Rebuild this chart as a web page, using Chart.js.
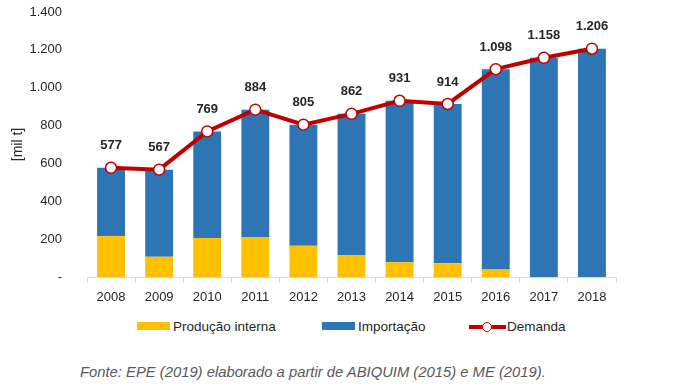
<!DOCTYPE html>
<html lang="pt">
<head>
  <meta charset="UTF-8" />
  <title>Demanda — produção e importação</title>
  <script src="https://cdnjs.cloudflare.com/ajax/libs/Chart.js/4.4.1/chart.umd.js"></script>
  <style>
    body {
      margin: 0;
      background: #fff;
      font-family: 'Liberation Sans', sans-serif;
    }
    #wrap {
      position: relative;
      width: 684px;
      height: 384px;
    }
    #chart {
      position: absolute;
      left: 0;
      top: 0;
    }
    .sw, .txt, .dot {
      position: absolute;
    }
    .txt {
      top: 318px;
      font-size: 13.5px;
      line-height: 17px;
      color: #262626;
      white-space: nowrap;
    }
    .sw {
      top: 322px;
      width: 33px;
      height: 8px;
    }
    .dot {
      top: 321.5px;
      width: 10px;
      height: 10px;
      border-radius: 50%;
      background: #fff;
      border: 1.5px solid #C00000;
      box-sizing: border-box;
    }
    .note {
      position: absolute;
      left: 80px;
      top: 363px;
      font-size: 14.8px;
      line-height: 18px;
      font-style: italic;
      color: #595959;
      white-space: nowrap;
    }
  </style>
</head>
<body>
  <div id="wrap">
    <canvas id="chart" width="684" height="310"></canvas>

    <span class="sw" style="left:137px;background:#FFC000"></span>
    <span class="txt" style="left:173px">Produção interna</span>
    <span class="sw" style="left:322px;background:#2E75B6"></span>
    <span class="txt" style="left:358px">Importação</span>
    <span class="sw" style="left:469px;width:37px;top:324.5px;height:4px;background:#C00000"></span>
    <span class="dot" style="left:482px"></span>
    <span class="txt" style="left:507px">Demanda</span>

    <div class="note">Fonte: EPE (2019) elaborado a partir de ABIQUIM (2015) e ME (2019).</div>
  </div>

  <script>
    const years = ['2008', '2009', '2010', '2011', '2012', '2013', '2014', '2015', '2016', '2017', '2018'];
    const demanda = [577, 567, 769, 884, 805, 862, 931, 914, 1098, 1158, 1206];
    const producao = [215, 107, 206, 211, 165, 116, 78, 72, 39, 0, 0];
    const importacao = [362, 460, 563, 673, 640, 746, 853, 842, 1059, 1158, 1206];
    const yTicks = [0, 200, 400, 600, 800, 1000, 1200, 1400];

    const fmt = v => v === 0 ? '-' : String(v).replace(/\B(?=(\d{3})+(?!\d))/g, '.');

    // rótulos de valor acima dos pontos da demanda
    const demandLabels = {
      id: 'demandLabels',
      afterDatasetsDraw(chart) {
        const meta = chart.getDatasetMeta(2);
        const ctx = chart.ctx;
        ctx.save();
        ctx.font = 'bold 13px "Liberation Sans", sans-serif';
        ctx.fillStyle = '#262626';
        ctx.textAlign = 'center';
        ctx.textBaseline = 'middle';
        meta.data.forEach((pt, i) => {
          ctx.fillText(fmt(demanda[i]), pt.x, pt.y - 22);
        });
        ctx.restore();
      }
    };

    const tickFont = { family: '"Liberation Sans", sans-serif', size: 13 };

    new Chart(document.getElementById('chart'), {
      data: {
        labels: years,
        datasets: [
          {
            type: 'bar',
            label: 'Produção interna',
            data: producao,
            backgroundColor: '#FFC000',
            stack: 'oferta',
            order: 2,
            barPercentage: 0.58,
            categoryPercentage: 1,
          },
          {
            type: 'bar',
            label: 'Importação',
            data: importacao,
            backgroundColor: '#2E75B6',
            stack: 'oferta',
            order: 2,
            barPercentage: 0.58,
            categoryPercentage: 1,
          },
          {
            type: 'line',
            label: 'Demanda',
            data: demanda,
            stack: 'demanda',
            order: 0,
            borderColor: '#C00000',
            borderWidth: 4,
            pointRadius: 5.5,
            pointBackgroundColor: '#fff',
            pointBorderColor: '#C00000',
            pointBorderWidth: 1.5,
            tension: 0,
          }
        ]
      },
      options: {
        responsive: false,
        animation: false,
        layout: { padding: { top: 12, right: 68, bottom: 0, left: 0 } },
        plugins: {
          legend: { display: false },
          tooltip: { enabled: false }
        },
        scales: {
          x: {
            stacked: true,
            afterFit: s => { s.height = 33; },
            grid: {
              offset: true,
              drawOnChartArea: false,
              drawTicks: true,
              tickLength: 6,
              color: '#D9D9D9',
            },
            border: { color: '#D9D9D9' },
            ticks: {
              padding: 7,
              color: '#262626',
              font: tickFont,
            },
          },
          y: {
            stacked: true,
            min: 0,
            max: 1400,
            afterFit: s => { s.width = 87; s.paddingTop = 0; s.paddingBottom = 0; },
            afterBuildTicks: s => { s.ticks = yTicks.map(v => ({ value: v })); },
            grid: { display: false },
            border: { display: false },
            ticks: {
              padding: 17,
              color: '#262626',
              font: tickFont,
              callback: v => fmt(v),
            },
            title: {
              display: true,
              text: '[mil t]',
              color: '#262626',
              font: { family: '"Liberation Sans", sans-serif', size: 14 },
              padding: { top: 10, bottom: 0 },
            },
          }
        }
      },
      plugins: [demandLabels]
    });
  </script>
</body>
</html>
